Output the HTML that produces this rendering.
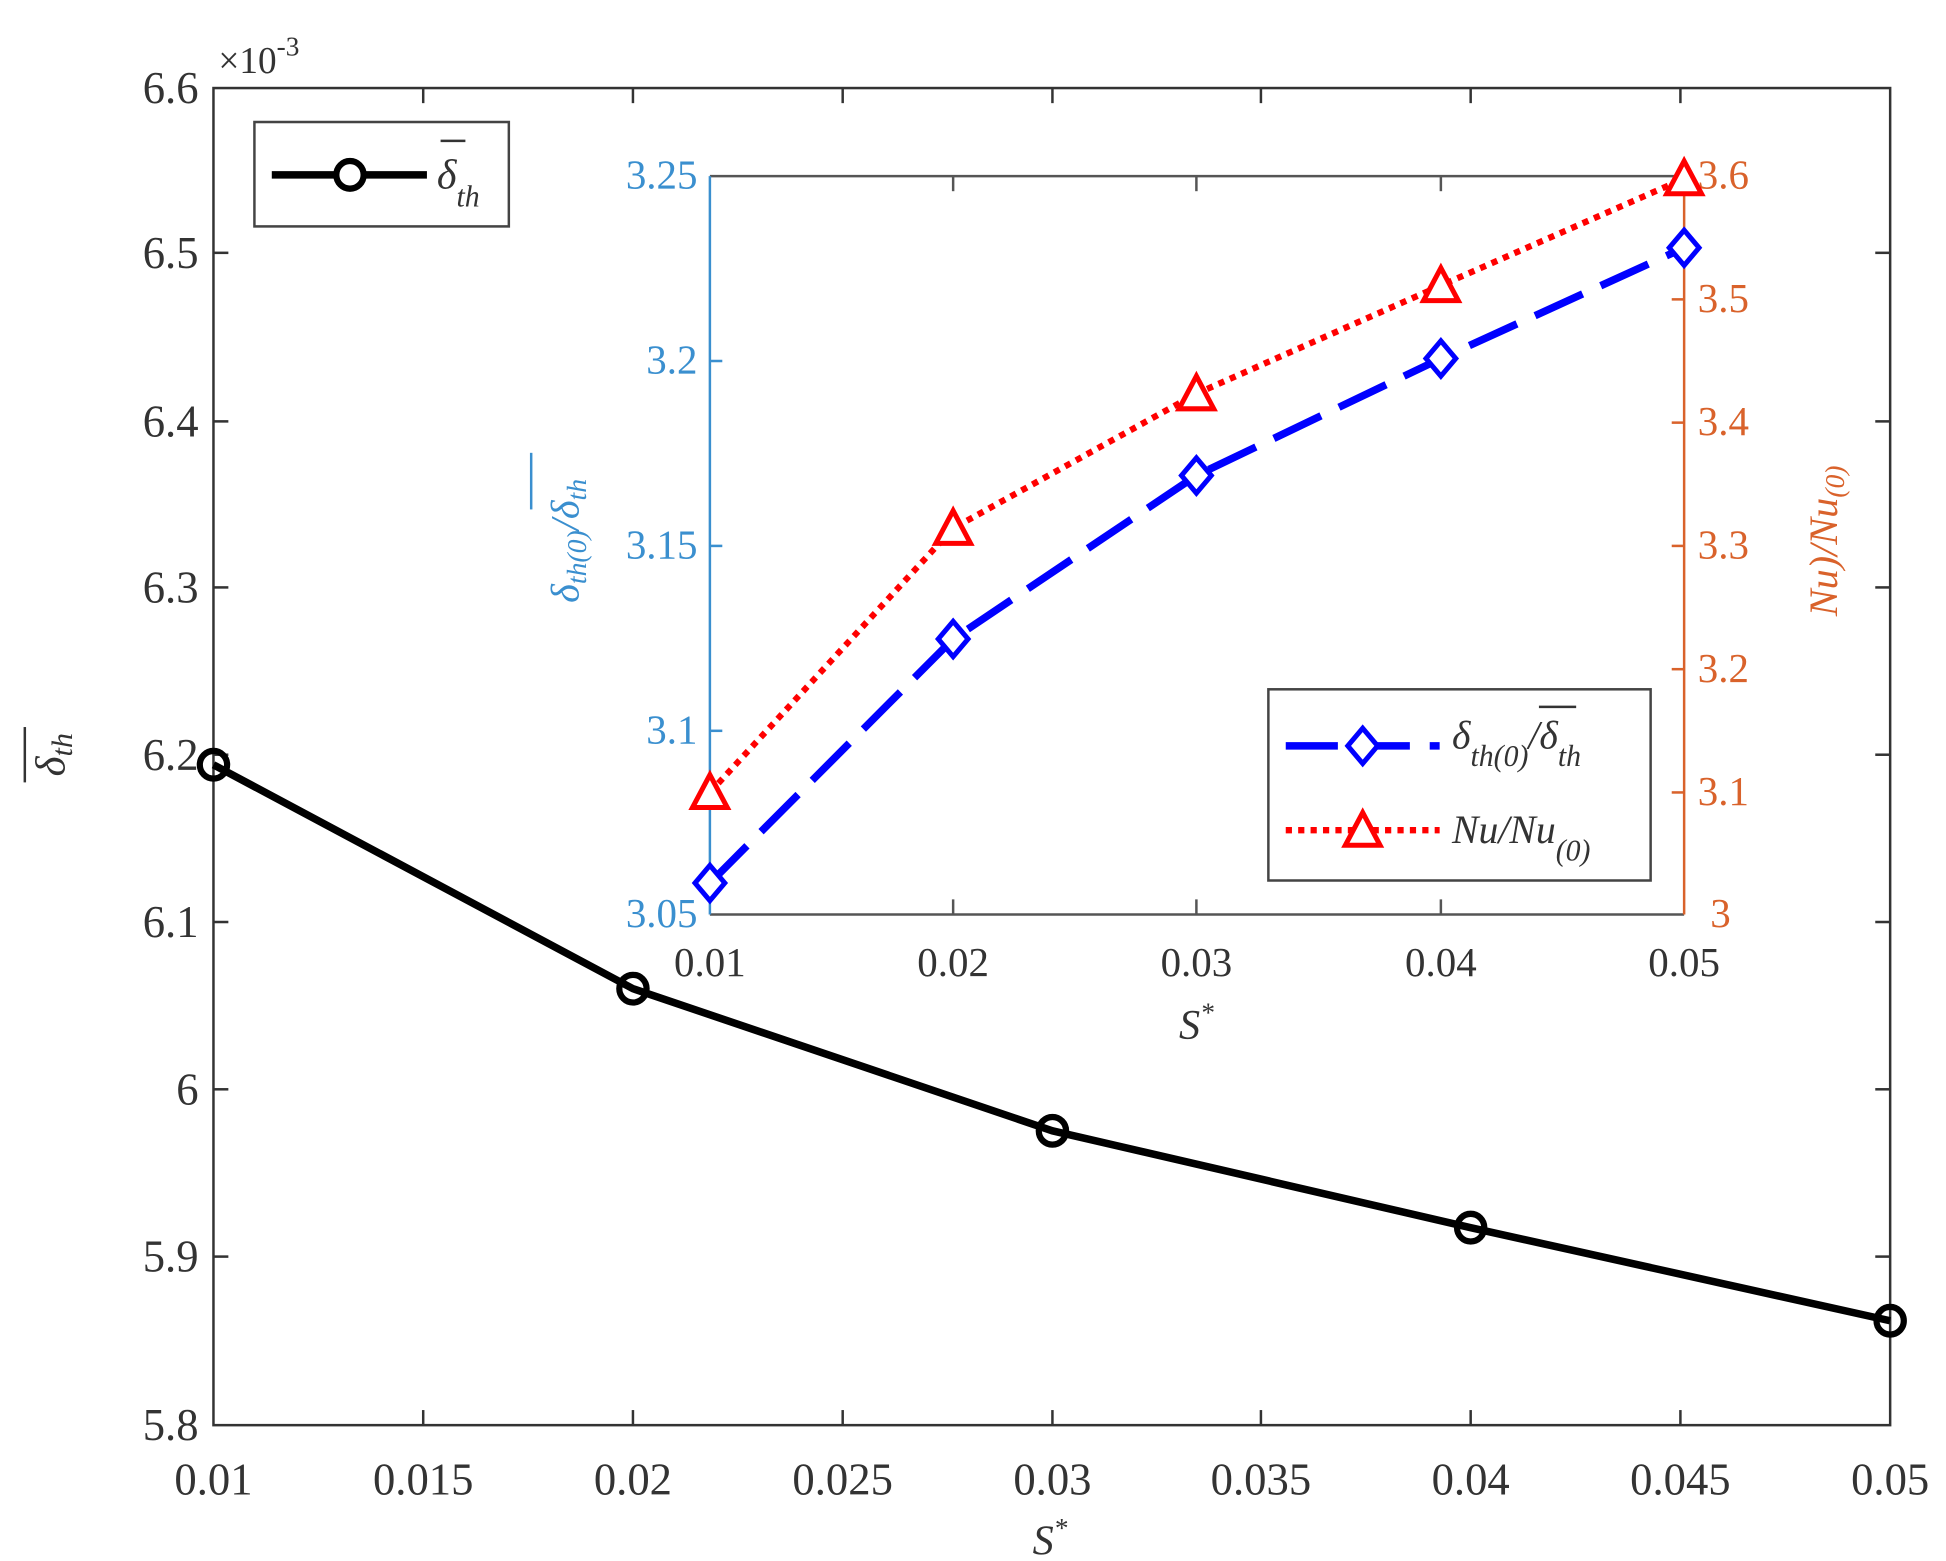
<!DOCTYPE html>
<html><head><meta charset="utf-8"><style>
html,body{margin:0;padding:0;background:#fff;}
svg{display:block;}
text{font-family:"Liberation Serif",serif;}
</style></head><body>
<svg width="1946" height="1561" viewBox="0 0 1568 1241" preserveAspectRatio="none" xmlns="http://www.w3.org/2000/svg">
<rect width="1568" height="1241" fill="#fff"/>
<rect x="172" y="70" width="1351" height="1063" fill="none" stroke="#333" stroke-width="2"/>
<g stroke="#333" stroke-width="2">
<line x1="172" y1="201" x2="184" y2="201"/><line x1="172" y1="335" x2="184" y2="335"/><line x1="172" y1="467" x2="184" y2="467"/><line x1="172" y1="600" x2="184" y2="600"/><line x1="172" y1="733" x2="184" y2="733"/><line x1="172" y1="866" x2="184" y2="866"/><line x1="172" y1="999" x2="184" y2="999"/>
<line x1="1523" y1="201" x2="1511" y2="201"/><line x1="1523" y1="335" x2="1511" y2="335"/><line x1="1523" y1="467" x2="1511" y2="467"/><line x1="1523" y1="600" x2="1511" y2="600"/><line x1="1523" y1="733" x2="1511" y2="733"/><line x1="1523" y1="866" x2="1511" y2="866"/><line x1="1523" y1="999" x2="1511" y2="999"/>
<line x1="341" y1="1133" x2="341" y2="1121"/><line x1="510" y1="1133" x2="510" y2="1121"/><line x1="679" y1="1133" x2="679" y2="1121"/><line x1="848" y1="1133" x2="848" y2="1121"/><line x1="1016" y1="1133" x2="1016" y2="1121"/><line x1="1185" y1="1133" x2="1185" y2="1121"/><line x1="1354" y1="1133" x2="1354" y2="1121"/>
<line x1="341" y1="70" x2="341" y2="82"/><line x1="510" y1="70" x2="510" y2="82"/><line x1="679" y1="70" x2="679" y2="82"/><line x1="848" y1="70" x2="848" y2="82"/><line x1="1016" y1="70" x2="1016" y2="82"/><line x1="1185" y1="70" x2="1185" y2="82"/><line x1="1354" y1="70" x2="1354" y2="82"/>
</g>
<g font-size="36" fill="#333" text-anchor="end">
<text x="160" y="82">6.6</text><text x="160" y="213">6.5</text><text x="160" y="347">6.4</text><text x="160" y="479">6.3</text><text x="160" y="612">6.2</text><text x="160" y="745">6.1</text><text x="160" y="878">6</text><text x="160" y="1011">5.9</text><text x="160" y="1145">5.8</text>
</g>
<text x="176" y="58" font-size="30" fill="#333">×10<tspan font-size="22" dy="-14">-3</tspan></text>
<g font-size="36" fill="#333" text-anchor="middle">
<text x="172" y="1188">0.01</text><text x="341" y="1188">0.015</text><text x="510" y="1188">0.02</text><text x="679" y="1188">0.025</text><text x="848" y="1188">0.03</text><text x="1016" y="1188">0.035</text><text x="1185" y="1188">0.04</text><text x="1354" y="1188">0.045</text><text x="1523" y="1188">0.05</text>
</g>
<text x="846" y="1236" font-size="34" font-style="italic" fill="#333" text-anchor="middle">S<tspan font-size="22" dy="-14">*</tspan></text>
<g transform="translate(52,600) rotate(-90)" fill="#333">
<text x="0" y="0" font-size="34" font-style="italic" text-anchor="middle">δ<tspan font-size="24" dy="6">th</tspan></text>
<line x1="-22" y1="-32" x2="22" y2="-32" stroke="#333" stroke-width="2"/>
</g>
<polyline points="172,608 510,786 848,899 1185,976 1523,1050" fill="none" stroke="#000" stroke-width="6"/>
<g fill="none" stroke="#000" stroke-width="5">
<circle cx="172" cy="608" r="11"/><circle cx="510" cy="786" r="11"/><circle cx="848" cy="899" r="11"/><circle cx="1185" cy="976" r="11"/><circle cx="1523" cy="1050" r="11"/>
</g>
<rect x="205" y="97" width="205" height="83" fill="#fff" stroke="#444" stroke-width="2"/>
<line x1="219" y1="139" x2="344" y2="139" stroke="#000" stroke-width="6"/>
<circle cx="282" cy="139" r="11" fill="#fff" stroke="#000" stroke-width="5"/>
<text x="352" y="150" font-size="34" font-style="italic" fill="#333">δ<tspan font-size="24" dy="14">th</tspan></text>
<line x1="355" y1="112" x2="375" y2="112" stroke="#333" stroke-width="2"/>
<rect x="572" y="140" width="785" height="587" fill="#fff" stroke="none"/>
<line x1="572" y1="140" x2="1357" y2="140" stroke="#555" stroke-width="2"/>
<line x1="572" y1="727" x2="1357" y2="727" stroke="#555" stroke-width="2"/>
<line x1="572" y1="140" x2="572" y2="727" stroke="#3a8fcf" stroke-width="2"/>
<line x1="1357" y1="140" x2="1357" y2="727" stroke="#d9622b" stroke-width="2"/>
<g stroke="#555" stroke-width="2">
<line x1="768" y1="727" x2="768" y2="715"/><line x1="964" y1="727" x2="964" y2="715"/><line x1="1161" y1="727" x2="1161" y2="715"/>
<line x1="768" y1="140" x2="768" y2="152"/><line x1="964" y1="140" x2="964" y2="152"/><line x1="1161" y1="140" x2="1161" y2="152"/>
</g>
<g stroke="#3a8fcf" stroke-width="2"><line x1="572" y1="287" x2="582" y2="287"/><line x1="572" y1="434" x2="582" y2="434"/><line x1="572" y1="581" x2="582" y2="581"/></g>
<g stroke="#d9622b" stroke-width="2"><line x1="1357" y1="238" x2="1347" y2="238"/><line x1="1357" y1="336" x2="1347" y2="336"/><line x1="1357" y1="434" x2="1347" y2="434"/><line x1="1357" y1="532" x2="1347" y2="532"/><line x1="1357" y1="630" x2="1347" y2="630"/></g>
<g font-size="33" fill="#3a8fcf" text-anchor="end">
<text x="562" y="150">3.25</text><text x="562" y="297">3.2</text><text x="562" y="444">3.15</text><text x="562" y="591">3.1</text><text x="562" y="737">3.05</text>
</g>
<g font-size="33" fill="#d9622b" text-anchor="start">
<text x="1368" y="150">3.6</text><text x="1368" y="248">3.5</text><text x="1368" y="346">3.4</text><text x="1368" y="444">3.3</text><text x="1368" y="542">3.2</text><text x="1368" y="640">3.1</text><text x="1378" y="737">3</text>
</g>
<g font-size="33" fill="#333" text-anchor="middle">
<text x="572" y="776">0.01</text><text x="768" y="776">0.02</text><text x="964" y="776">0.03</text><text x="1161" y="776">0.04</text><text x="1357" y="776">0.05</text>
</g>
<text x="964" y="826" font-size="34" font-style="italic" fill="#333" text-anchor="middle">S<tspan font-size="22" dy="-14">*</tspan></text>
<g transform="translate(466,430) rotate(-90)" fill="#3a8fcf">
<text x="0" y="0" font-size="32" font-style="italic" text-anchor="middle">δ<tspan font-size="22" dy="6">th(0)</tspan><tspan dy="-6">/δ</tspan><tspan font-size="22" dy="6">th</tspan></text>
<line x1="25" y1="-38" x2="70" y2="-38" stroke="#3a8fcf" stroke-width="2"/>
</g>
<g transform="translate(1480,430) rotate(-90)" fill="#d9622b">
<text x="0" y="0" font-size="32" font-style="italic" text-anchor="middle">Nu)/Nu<tspan font-size="22" dy="6">(0)</tspan></text>
</g>
<polyline points="572,702 768,508 964,378 1161,285 1357,197" fill="none" stroke="#0000ff" stroke-width="6" stroke-dasharray="42,16"/>
<polyline points="572,630 768,420 964,313 1161,227 1357,142" fill="none" stroke="#ff0000" stroke-width="5" stroke-dasharray="5,5"/>
<g fill="#fff" stroke="#0000ff" stroke-width="4">
<polygon points="572,688 584,702 572,716 560,702"/><polygon points="768,494 780,508 768,522 756,508"/><polygon points="964,364 976,378 964,392 952,378"/><polygon points="1161,271 1173,285 1161,299 1149,285"/><polygon points="1357,183 1369,197 1357,211 1345,197"/>
</g>
<g fill="#fff" stroke="#ff0000" stroke-width="4">
<polygon points="572,616 586,642 558,642"/><polygon points="768,406 782,432 754,432"/><polygon points="964,299 978,325 950,325"/><polygon points="1161,213 1175,239 1147,239"/><polygon points="1357,128 1371,154 1343,154"/>
</g>
<rect x="1022" y="548" width="308" height="152" fill="#fff" stroke="#444" stroke-width="2"/>
<line x1="1036" y1="593" x2="1160" y2="593" stroke="#0000ff" stroke-width="6" stroke-dasharray="42,16"/>
<polygon points="1098,579 1110,593 1098,607 1086,593" fill="#fff" stroke="#0000ff" stroke-width="4"/>
<text x="1170" y="595" font-size="32" font-style="italic" fill="#333">δ<tspan font-size="24" dy="14">th(0)</tspan><tspan dy="-14">/δ</tspan><tspan font-size="24" dy="14">th</tspan></text>
<line x1="1240" y1="562" x2="1270" y2="562" stroke="#333" stroke-width="2"/>
<line x1="1036" y1="660" x2="1160" y2="660" stroke="#ff0000" stroke-width="5" stroke-dasharray="5,5"/>
<polygon points="1098,646 1112,672 1084,672" fill="#fff" stroke="#ff0000" stroke-width="4"/>
<text x="1170" y="670" font-size="32" font-style="italic" fill="#333">Nu/Nu<tspan font-size="24" dy="14">(0)</tspan></text>
</svg>
</body></html>
